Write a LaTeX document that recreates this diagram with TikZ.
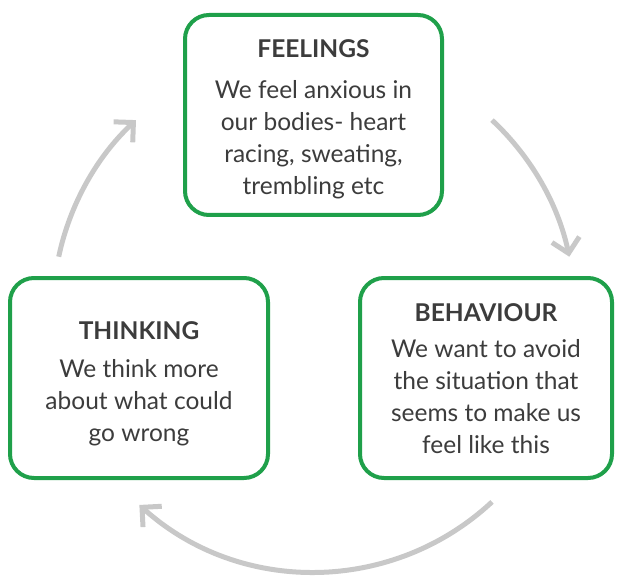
\documentclass[tikz,border=0pt]{standalone}
\usepackage{fontspec}
\setmainfont{Lato}
\usetikzlibrary{arrows.meta,positioning}

\definecolor{stagegreen}{HTML}{1FA04A}
\definecolor{arrowgray}{HTML}{C8C8C8}
\definecolor{textgray}{HTML}{3C3C3C}

% title line, with a strut to nudge the text block down
\newcommand{\stagetitle}[2][18pt]{{\bfseries\fontsize{24.5}{32}\selectfont\rule{0pt}{#1}#2}}

\begin{document}
\begin{tikzpicture}[x=1pt, y=1pt,
      stage/.style={draw=stagegreen, line width=4pt, rounded corners=24pt, fill=white,
        minimum height=200pt, inner sep=0pt, align=center, text=textgray,
        font=\fontsize{24.5}{32}\selectfont},
      cyclearrow/.style={-{Straight Barb[length=14pt, width=28pt]}, line width=5pt, draw=arrowgray}
    ]
      \useasboundingbox (0,0) rectangle (617,576);

      % Feelings
      \node[stage, minimum width=257pt] (feel) at (313.5,461)
        {\stagetitle[27pt]{FEELINGS} \\[9pt] We feel anxious in \\ our bodies- heart \\ racing, sweating, \\ trembling etc};

      % Thinking
      \node[stage, minimum width=258pt, below=59pt of feel, xshift=-174.5pt] (think)
        {\stagetitle[30pt]{THINKING} \\[6pt] We think more \\ about what could \\ go wrong};

      % Behaviour
      \node[stage, minimum width=252pt, below=59pt of feel, xshift=172.5pt] (behave)
        {\stagetitle[19pt]{BEHAVIOUR} \\[4pt] We want to avoid \\ the situation that \\ seems to make us \\ feel like this};

      % Arrows round the cycle
      \coordinate (hub) at (314,265);
      \draw[cyclearrow] ([shift={(168:261)}]hub) arc[start angle=168, end angle=133, radius=261];
      \draw[cyclearrow] ([shift={(47:261)}]hub) arc[start angle=47, end angle=12, radius=261];
      \draw[cyclearrow] ([shift={(-47:261)}]hub) arc[start angle=-47, end angle=-132, radius=261];
    \end{tikzpicture}
\end{document}
